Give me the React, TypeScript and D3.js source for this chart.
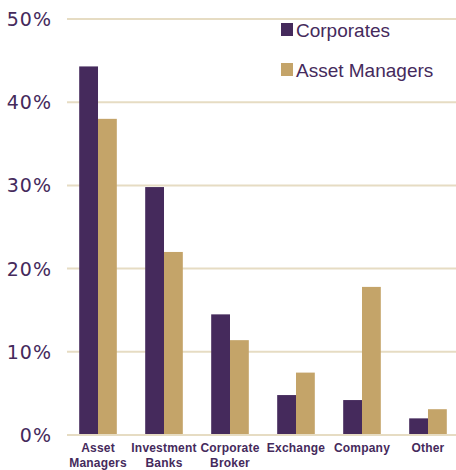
import { scaleBand, scaleLinear } from 'd3';

const categories = ['Asset Managers', 'Investment Banks', 'Corporate Broker', 'Exchange', 'Company', 'Other'];
const categoryLines = [['Asset', 'Managers'], ['Investment', 'Banks'], ['Corporate', 'Broker'], ['Exchange'], ['Company'], ['Other']];
const seriesNames = ['Corporates', 'Asset Managers'];
const corporates = [44.3, 29.8, 14.5, 4.8, 4.2, 2.0];
const assetManagers = [38.0, 22.0, 11.4, 7.5, 17.8, 3.1];
const yTicks = [0, 10, 20, 30, 40, 50];

const purple = '#452a5c';
const gold = '#c4a469';
const grid = '#e6dcc3';

export default function App() {
  const width = 456;
  const height = 470;

  const y = scaleLinear().domain([0, 50]).range([435, 19]);
  const x = scaleBand<string>().domain(categories).range([66, 460]).paddingInner(0.43).paddingOuter(0.2);
  const inner = scaleBand<string>().domain(seriesNames).range([0, x.bandwidth()]);
  const colors = [purple, gold];
  const series = [corporates, assetManagers];

  return (
    <svg width={width} height={height} style={{ position: 'absolute', left: 0, top: 0 }}>
      {yTicks.map((t) => (
        <g key={t}>
          <line x1={67} x2={456} y1={y(t)} y2={y(t)} stroke={grid} strokeWidth={2} />
          <text x={52} y={y(t) + 7} textAnchor="end" fontFamily="DejaVu Sans" fontSize={19} fill={purple} letterSpacing={1}>
            {t}%
          </text>
        </g>
      ))}
      {series.map((vals, si) =>
        categories.map((c, i) => (
          <rect
            key={`${si}-${c}`}
            x={(x(c) || 0) + (inner(seriesNames[si]) || 0)}
            y={y(vals[i])}
            width={inner.bandwidth()}
            height={y(0) - y(vals[i])}
            fill={colors[si]}
          />
        )),
      )}
      <line x1={67} x2={448} y1={y(0)} y2={y(0)} stroke={grid} strokeWidth={2} />
      {categories.map((c, i) => (
        <text key={c} textAnchor="middle" fontFamily="Liberation Sans, Arial" fontWeight="bold" fontSize={12} fill={purple} letterSpacing={0.2}>
          {categoryLines[i].map((l, li) => (
            <tspan key={l} x={(x(c) || 0) + x.bandwidth() / 2} y={452 + li * 15}>
              {l}
            </tspan>
          ))}
        </text>
      ))}
      {seriesNames.map((s, i) => (
        <g key={s}>
          <rect x={281} y={23 + i * 40} width={12} height={13} fill={colors[i]} />
          <text x={296} y={37 + i * 40} fontFamily="Liberation Sans, Arial" fontSize={19} fill={purple}>
            {s}
          </text>
        </g>
      ))}
    </svg>
  );
}
